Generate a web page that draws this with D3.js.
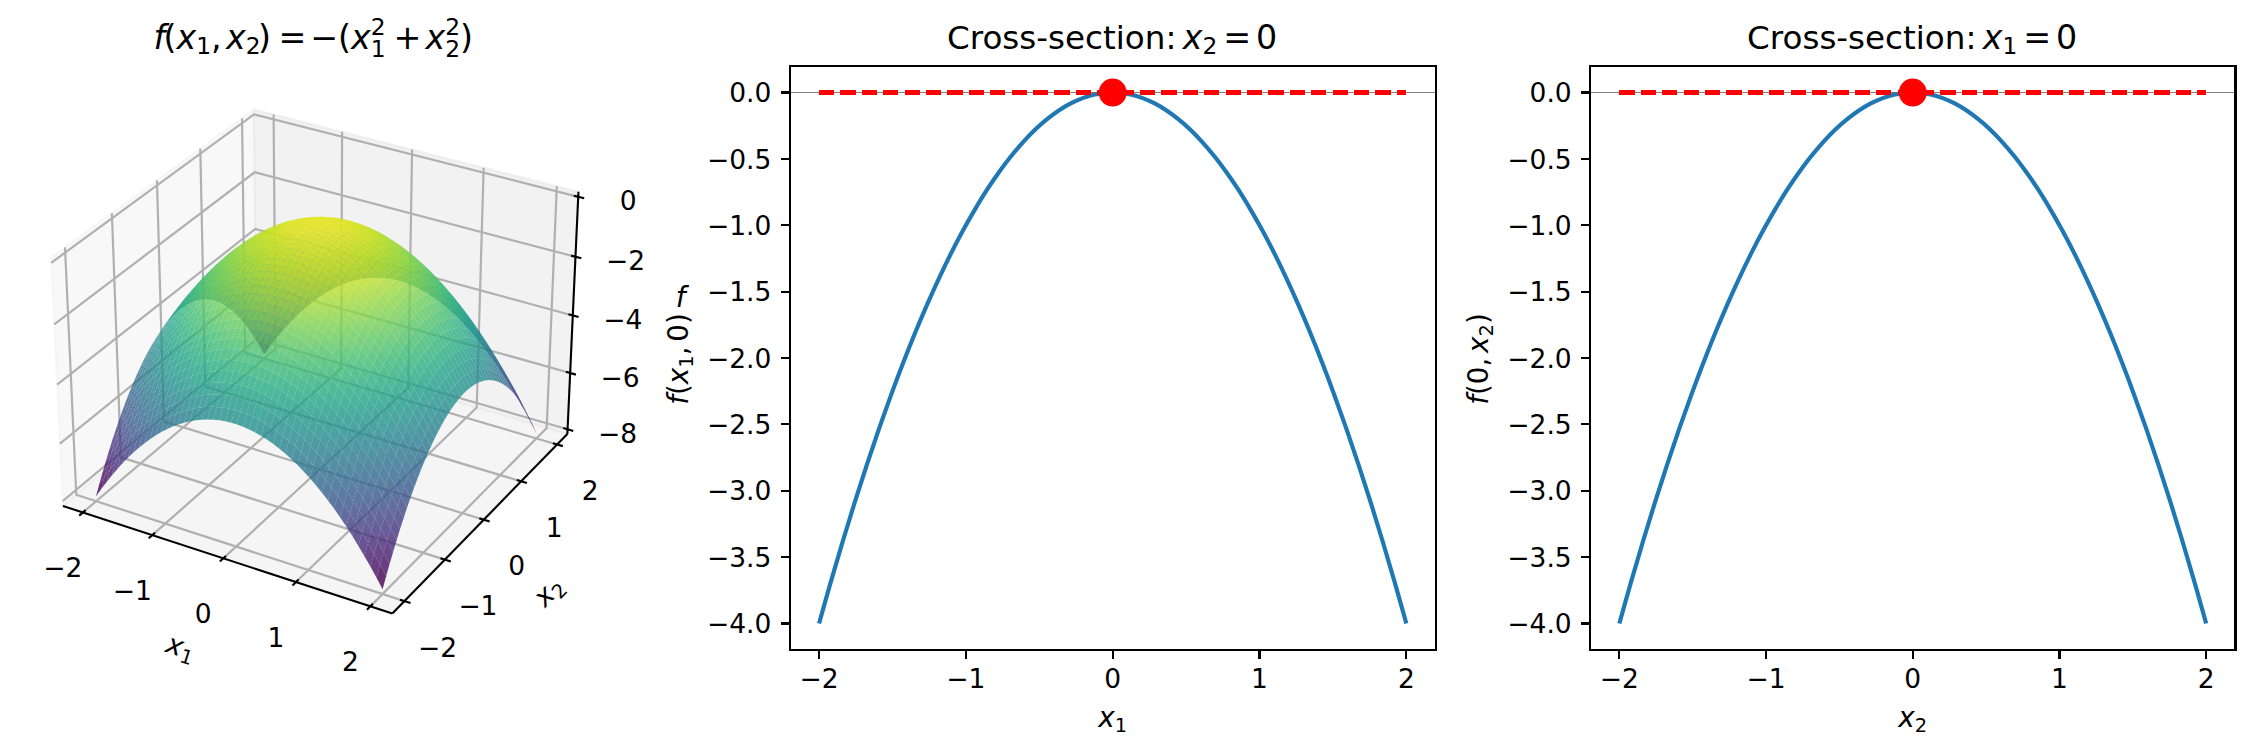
<!DOCTYPE html>
<html>
<head>
<meta charset="utf-8">
<script src="https://cdn.jsdelivr.net/npm/d3@7"></script>
<style>
html,body{margin:0;padding:0;background:#fff}
svg{display:block}
text{font-family:"DejaVu Sans";fill:#000}
</style>
</head>
<body>
<svg id="chart" width="2254" height="751"></svg>
<script>
// ---- data ----
const gridValues = [-2.000,-1.918,-1.837,-1.755,-1.673,-1.592,-1.510,-1.429,-1.347,-1.265,-1.184,-1.102,-1.020,-0.939,-0.857,-0.776,-0.694,-0.612,-0.531,-0.449,-0.367,-0.286,-0.204,-0.122,-0.041,
  0.041,0.122,0.204,0.286,0.367,0.449,0.531,0.612,0.694,0.776,0.857,0.939,1.020,1.102,1.184,1.265,1.347,1.429,1.510,1.592,1.673,1.755,1.837,1.918,2.000];
const sectionValues = [-4.000,-3.679,-3.375,-3.080,-2.799,-2.534,-2.280,-2.042,-1.814,-1.600,-1.402,-1.214,-1.040,-0.882,-0.734,-0.602,-0.482,-0.375,-0.282,-0.202,-0.135,-0.082,-0.042,-0.015,-0.002,
  -0.002,-0.015,-0.042,-0.082,-0.135,-0.202,-0.282,-0.375,-0.482,-0.602,-0.734,-0.882,-1.040,-1.214,-1.402,-1.600,-1.814,-2.042,-2.280,-2.534,-2.799,-3.080,-3.375,-3.679,-4.000];
const tangentX = [-2, 2];
const tangentY = [0, 0];
const peakX = [0];
const peakY = [0];
const inputTicks = [-2,-1,0,1,2];
const sectionTicks = [0,-0.5,-1,-1.5,-2,-2.5,-3,-3.5,-4];
const surfaceTicks = [0,-2,-4,-6,-8];

// ---- helpers ----
const svg = d3.select("#chart");
const MINUS = "\u2212";
const TICK_FONT = 26.5;

function math(sel, segs, size, originX){
  let cur = 0;
  const shifts = {sub:.18, sup:-.40, subsup:.25};
  segs.forEach(s=>{
    const kind = s.k || "";
    const small = kind==="sub"||kind==="sup"||kind==="subsup";
    const fs = s.size ? s.size : (small ? size*.7 : size);
    const shift = (shifts[kind]||0)*size;
    const ts = sel.append("tspan")
      .attr("font-size",fs)
      .attr("font-style",s.i?"italic":"normal")
      .attr("dx",(s.dx||0)*size)
      .attr("dy",shift-cur)
      .text(s.t);
    if(s.at!==undefined) ts.attr("x",originX+s.at);
    cur = shift;
  });
  return sel;
}
const T=(t,o={})=>Object.assign({t},o);
const X=(o={})=>Object.assign({t:"x",i:true},o);

// ---- 3D panel (elevation 30, azimuth -60) ----
const g3 = svg.append("g");
const halfXY = 0.59525, halfZ = 0.44645;
const dist = 10, K = 3170, CX = 319.8, CY = 349.4;
const xLim = [-2.2917, 2.2917], zLim = [-8.1667, 0.1667];
const nx = d3.scaleLinear().domain(xLim).range([-halfXY,halfXY]);
const nz = d3.scaleLinear().domain(zLim).range([-halfZ,halfZ]);
const U = [0.8660254,0.5,0], V = [-0.25,0.4330127,0.8660254], W = [0.4330127,-0.75,0.5];
const dot=(a,b)=>a[0]*b[0]+a[1]*b[1]+a[2]*b[2];
function proj(x,y,z){
  const p=[nx(x),nx(y),nz(z)];
  const d=dist-dot(W,p);
  return {px:CX+K*dot(U,p)/d, py:CY-K*dot(V,p)/d, d};
}
const line3 = d3.line().x(d=>proj(...d).px).y(d=>proj(...d).py);
const [x0,x1]=xLim, [z0,z1]=zLim;

// panes
[
 {c:[[x0,x0,z0],[x0,x1,z0],[x0,x1,z1],[x0,x0,z1]], f:"rgb(242,242,242)", o:.5},
 {c:[[x0,x1,z0],[x1,x1,z0],[x1,x1,z1],[x0,x1,z1]], f:"rgb(230,230,230)", o:.5},
 {c:[[x0,x0,z0],[x1,x0,z0],[x1,x1,z0],[x0,x1,z0]], f:"rgb(236,236,236)", o:.5}
].forEach(p=>{
  g3.append("path").attr("d",line3(p.c)+"Z").attr("fill",p.f).attr("fill-opacity",p.o)
    .attr("stroke",p.f).attr("stroke-opacity",p.o).attr("stroke-width",2);
});

// grid
const gridG=g3.append("g").attr("fill","none").attr("stroke","#b0b0b0").attr("stroke-width",2.2);
inputTicks.forEach(t=>{
  gridG.append("path").attr("d",line3([[t,x0,z0],[t,x1,z0],[t,x1,z1]]));
  gridG.append("path").attr("d",line3([[x1,t,z0],[x0,t,z0],[x0,t,z1]]));
});
surfaceTicks.forEach(t=>{
  gridG.append("path").attr("d",line3([[x0,x0,t],[x0,x1,t],[x1,x1,t]]));
});

// axis lines and ticks
const axG=g3.append("g").attr("fill","none").attr("stroke","#000").attr("stroke-width",2.1);
axG.append("path").attr("d",line3([[x0,x0,z0],[x1,x0,z0]]));
axG.append("path").attr("d",line3([[x1,x0,z0],[x1,x1,z0]]));
axG.append("path").attr("d",line3([[x1,x1,z0],[x1,x1,z1]]));
const tIn=.06,tOut=.08;
inputTicks.forEach(t=>{
  axG.append("path").attr("d",line3([[t,x0+tIn,z0],[t,x0-tOut,z0]]));
  axG.append("path").attr("d",line3([[x1-tIn,t,z0],[x1+tOut,t,z0]]));
});
surfaceTicks.forEach(t=>{
  axG.append("path").attr("d",line3([[x1-tIn,x1,t],[x1+tOut,x1,t]]));
});

// tick labels
const fmtInt=d=>d<0?MINUS+Math.abs(d):String(d);
const tick3=(sel,pos,dx,dy,d)=>sel.append("text").attr("x",pos.px+dx).attr("y",pos.py+dy)
  .attr("text-anchor","middle").attr("dy",".36em").attr("font-size",TICK_FONT).text(fmtInt(d));
inputTicks.forEach(t=>{
  tick3(g3,proj(t,x0,z0),-20,55,t);
  tick3(g3,proj(x1,t,z0),33,46,t);
});
surfaceTicks.forEach(t=>tick3(g3,proj(x1,x1,t),50,4,t));

// surface
const faces=[];
for(let i=0;i<gridValues.length-1;i++){
  for(let j=0;j<gridValues.length-1;j++){
    const c=[[i,j],[i+1,j],[i+1,j+1],[i,j+1]]
      .map(([a,b])=>[gridValues[a],gridValues[b],sectionValues[a]+sectionValues[b]]);
    const p=c.map(q=>proj(...q));
    faces.push({c,depth:d3.mean(p,q=>q.d),val:d3.mean(c,q=>q[2])});
  }
}
faces.sort((a,b)=>d3.descending(a.depth,b.depth));
const colour=d3.scaleSequential(d3.interpolateViridis).domain(d3.extent(faces,f=>f.val));
g3.append("g").selectAll("path").data(faces).join("path")
  .attr("d",f=>line3(f.c)+"Z")
  .attr("fill",f=>colour(f.val))
  .attr("fill-opacity",.8);

// 3D labels
math(g3.append("text").attr("x",153.5).attr("y",48.5),[
  T("f",{i:1}),T("(",{dx:-.05}),X(),T("1",{k:"sub"}),T(","),X({at:-86}),T("2",{k:"sub"}),T(")",{dx:-.08}),
  T("=",{at:-33.4}),T(MINUS,{at:-1.5}),T("(",{at:26}),X(),T("2",{k:"sup"}),T("1",{k:"subsup",dx:-.445}),
  T("+",{at:81.5}),X({at:113.5}),T("2",{k:"sup"}),T("2",{k:"subsup",dx:-.445}),T(")",{at:148})
],33.3,312);
math(g3.append("text").attr("text-anchor","middle").attr("dy",".2em").attr("transform","translate(178,656) rotate(18)"),
  [X(),T("1",{k:"sub"})],27.8);
math(g3.append("text").attr("text-anchor","middle").attr("dy",".2em").attr("transform","translate(555,598) rotate(-46)"),
  [X(),T("2",{k:"sub"})],27.8);
g3.append("text").attr("x",680.7).attr("y",307).attr("text-anchor","middle")
  .attr("font-size",27.8).attr("font-style","italic").text("f");

// ---- cross-section panels ----
const TOP=66,BOTTOM=650;
function panel(left,right,titleSegs,xSegs,ySegs,yLabelX){
  const g=svg.append("g");
  const xs=d3.scaleLinear().domain([-2.2,2.2]).range([left,right]);
  const ys=d3.scaleLinear().domain([-4.2,0.2]).range([BOTTOM,TOP]);
  const ax=d3.axisBottom(xs).tickValues(inputTicks).tickSize(9).tickPadding(10).offset(0).tickFormat(fmtInt);
  const ay=d3.axisLeft(ys).tickValues(sectionTicks).tickSize(9).tickPadding(9.3).offset(0).tickFormat(d3.format(".1f"));
  const ga=g.append("g").attr("transform",`translate(0,${BOTTOM})`).call(ax);
  const gb=g.append("g").attr("transform",`translate(${left},0)`).call(ay);
  [ga,gb].forEach(a=>{
    a.select(".domain").remove();
    a.selectAll("line").attr("stroke","#000").attr("stroke-width",2.2).attr("shape-rendering","crispEdges");
    a.selectAll("text").attr("font-size",TICK_FONT).attr("font-family","DejaVu Sans").attr("fill","#000");
  });
  ga.selectAll("text").attr("dy",".73em");
  gb.selectAll("text").attr("dy",".365em");
  g.append("line").attr("x1",left).attr("x2",right).attr("y1",ys(0)).attr("y2",ys(0))
    .attr("stroke","#808080").attr("stroke-width",1.4).attr("shape-rendering","crispEdges");
  g.append("path").datum(d3.zip(gridValues,sectionValues)).attr("fill","none").attr("stroke","#1f77b4")
    .attr("stroke-width",4.17).attr("stroke-linejoin","round")
    .attr("d",d3.line().x(d=>xs(d[0])).y(d=>ys(d[1])).curve(d3.curveCatmullRom));
  g.append("path").datum(d3.zip(tangentX,tangentY)).attr("fill","none").attr("stroke","#ff0000")
    .attr("stroke-width",4.17).attr("stroke-dasharray","15.2 6.2").attr("shape-rendering","crispEdges")
    .attr("d",d3.line().x(d=>xs(d[0])).y(d=>ys(d[1])));
  g.selectAll("circle").data(d3.zip(peakX,peakY)).join("circle")
    .attr("cx",d=>xs(d[0])).attr("cy",d=>ys(d[1])).attr("r",14).attr("fill","#ff0000");
  g.append("rect").attr("x",left).attr("y",TOP).attr("width",right-left).attr("height",BOTTOM-TOP)
    .attr("fill","none").attr("stroke","#000").attr("stroke-width",2.2).attr("shape-rendering","crispEdges");
  const cx=(left+right)/2;
  math(g.append("text").attr("x",cx-165.7).attr("y",48.5),titleSegs,33.3,cx);
  math(g.append("text").attr("x",cx).attr("y",727).attr("text-anchor","middle"),xSegs,27.8);
  math(g.append("text").attr("text-anchor","middle").attr("transform",`translate(${yLabelX},359) rotate(-90)`),ySegs,27.8);
}
const eqTail=v=>[T("=",{at:110.5}),T(v,{at:143.2})];
panel(789.7,1435.7,
  [T("Cross-section:",{size:32.6}),X({at:70}),T("2",{k:"sub"}),...eqTail("0")],
  [X(),T("1",{k:"sub"})],
  [T("f",{i:1}),T("("),X(),T("1",{k:"sub"}),T(","),T("0",{dx:.17}),T(")")],
  688);
panel(1590,2235.5,
  [T("Cross-section:",{size:32.6}),X({at:70}),T("1",{k:"sub"}),...eqTail("0")],
  [X(),T("2",{k:"sub"})],
  [T("f",{i:1}),T("("),T("0"),T(","),X({dx:.17}),T("2",{k:"sub"}),T(")")],
  1488);
</script>
</body>
</html>
